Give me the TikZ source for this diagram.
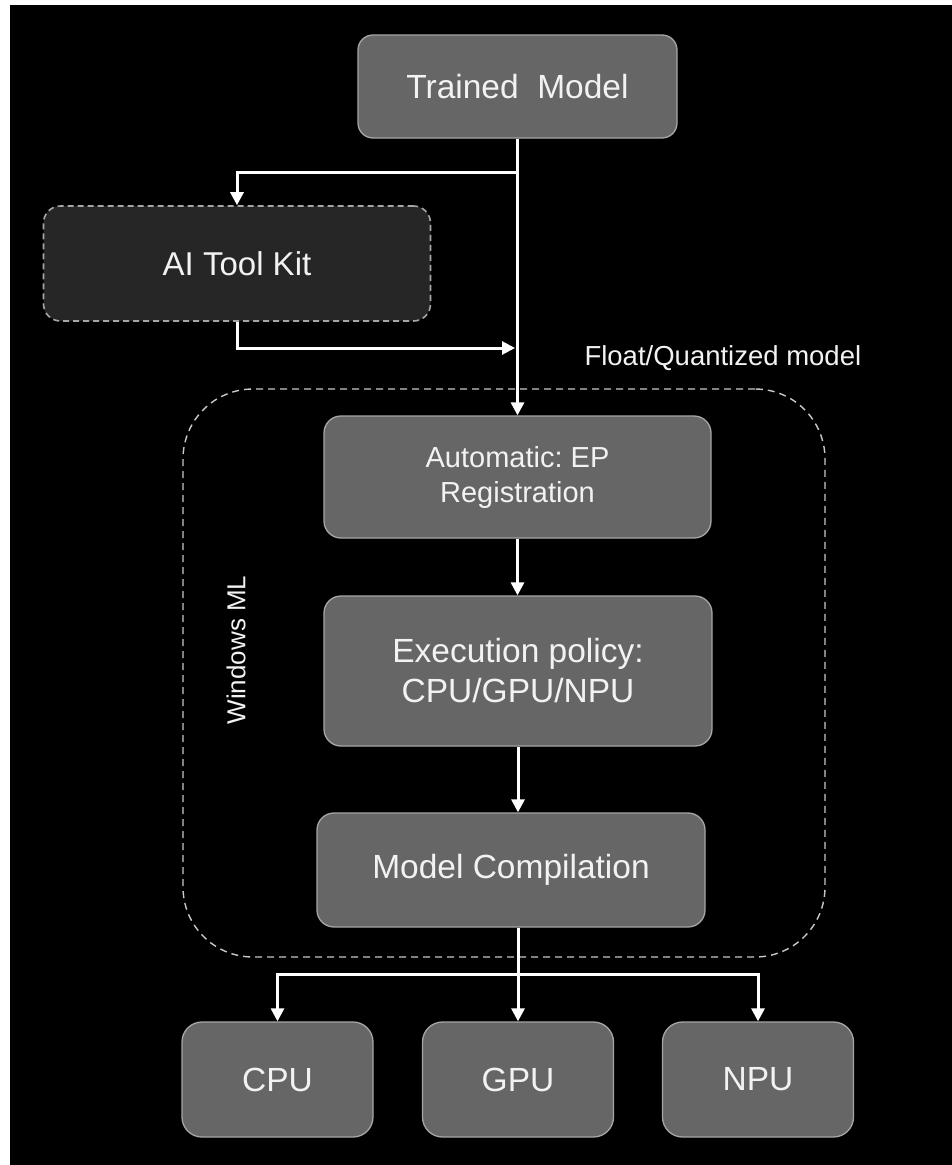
\documentclass[tikz,border=0pt]{standalone}
\usepackage{fontspec}
\setmainfont{Liberation Sans}
\frenchspacing
\usetikzlibrary{arrows.meta,positioning}
\definecolor{boxgray}{HTML}{666666}
\definecolor{kitgray}{HTML}{262626}
\definecolor{edgegray}{HTML}{A6A6A6}
\definecolor{dashgray}{HTML}{C8C8C8}
\definecolor{txtgray}{HTML}{F2F2F2}

\begin{document}
\begin{tikzpicture}[x=1pt,y=-1pt,
	stage/.style={draw=edgegray,line width=1.3pt,fill=boxgray,rounded corners=17pt,
		text=txtgray,align=center,inner sep=0pt,font=\fontsize{33.5}{40}\selectfont},
	flow/.style={draw=white,line width=3pt,-{Triangle[length=13pt,width=13pt]}}]
	\useasboundingbox (0,0) rectangle (952,1165);
	\fill[white] (0,0) rectangle (952,1165);
	\fill[black] (10,5) rectangle (952,1165);
	\node[draw=dashgray,line width=1.4pt,dash pattern=on 7pt off 5pt,rounded corners=70pt,
		minimum width=642pt,minimum height=568pt] (wml) at (504,673) {};
	\node[stage,minimum width=319pt,minimum height=103pt,rounded corners=15pt] (tm) at (517.5,86.5) {Trained\ \ Model};
	\node[stage,fill=kitgray,dash pattern=on 6pt off 4pt,line width=1.6pt,
		minimum width=387pt,minimum height=115pt,font=\fontsize{33}{40}\selectfont] (atk) at (237,263.5) {AI Tool Kit};
	\node[stage,minimum width=387pt,minimum height=122pt,font=\fontsize{29}{35}\selectfont] (aep) at (517.5,477) {Automatic: EP\\Registration};
	\node[stage,minimum width=388pt,minimum height=150pt] (epol) at (518,671) {Execution policy:\\CPU/GPU/NPU};
	\node[stage,minimum width=388pt,minimum height=114pt] (mc) at (511,870) {Model Compilation};
	\foreach \name/\x/\lbl in {cpu/277.5/CPU,gpu/518/GPU,npu/758/NPU}
		\node[stage,minimum width=191pt,minimum height=115pt,rounded corners=20pt] (\name) at (\x,1079.5) {\lbl};
	\node[anchor=west,text=txtgray,font=\fontsize{27.5}{33}\selectfont] (fq) at (581,358) {Float/Quantized model};
	\node[rotate=90,text=txtgray,font=\fontsize{26}{31}\selectfont] (wlab) at (236,650) {Windows ML};
	\coordinate (join) at (517,348);
	\draw[flow] (tm.south) -- (tm.south |- aep.north);
	\draw[flow] (tm.south |- 0,172) -| (atk.north);
	\draw[flow] (atk.south) |- ([xshift=-2pt]join);
	\draw[flow] (aep.south) -- (aep.south |- epol.north);
	\draw[flow] (epol.south) -- (epol.south |- mc.north);
	\foreach \name in {cpu,gpu,npu}
		\draw[flow] (epol.south |- mc.south) -- (epol.south |- 0,974) -| (\name.north);
\end{tikzpicture}
\end{document}
